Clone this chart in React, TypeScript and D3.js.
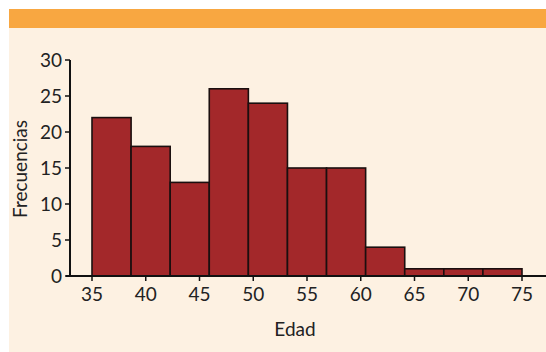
import React from "react";
import * as d3 from "d3";

const binEdges = [35, 38.636, 42.273, 45.909, 49.545, 53.182, 56.818, 60.455, 64.091, 67.727, 71.364, 75];
const frequencies = [22, 18, 13, 26, 24, 15, 15, 4, 1, 1, 1];
const xTicks = [35, 40, 45, 50, 55, 60, 65, 70, 75];
const yTicks = [0, 5, 10, 15, 20, 25, 30];

const W = 546, H = 352;
const FONT = "'Lato', 'Open Sans', sans-serif";

export default function App() {
  const x = d3.scaleLinear().domain([35, 75]).range([92, 522]);
  const y = d3.scaleLinear().domain([0, 30]).range([276, 60]);
  const bars = frequencies.map((f, i) => ({ x0: binEdges[i], x1: binEdges[i + 1], f }));
  return (
    <svg width={W} height={H} style={{ position: "absolute", left: 0, top: 0 }}>
      <rect x={9} y={28} width={W - 9} height={H - 28} fill="#fdf1e2" />
      <rect x={9} y={9} width={W - 9} height={19} fill="#f8a741" />
      {bars.map((b, i) => (
        <rect key={i} x={x(b.x0)} y={y(b.f)} width={x(b.x1) - x(b.x0)} height={y(0) - y(b.f)}
          fill="#a3282a" stroke="#1a0f0f" strokeWidth={1.6} />
      ))}
      <line x1={70} x2={70} y1={y(30)} y2={y(0)} stroke="#111" strokeWidth={2} />
      <line x1={66} x2={W} y1={y(0)} y2={y(0)} stroke="#111" strokeWidth={2} />
      {yTicks.map((t) => (
        <g key={t}>
          <line x1={65} x2={70} y1={y(t)} y2={y(t)} stroke="#111" strokeWidth={1.5} />
          <text x={62} y={y(t)} dy="0.35em" textAnchor="end" fontFamily={FONT} fontSize={19} fill="#222">{t}</text>
        </g>
      ))}
      {xTicks.map((t) => (
        <g key={t}>
          <line x1={x(t)} x2={x(t)} y1={y(0)} y2={y(0) + 5} stroke="#111" strokeWidth={1.5} />
          <text x={x(t)} y={301} textAnchor="middle" fontFamily={FONT} fontSize={19} fill="#222">{t}</text>
        </g>
      ))}
      <text x={295} y={336} textAnchor="middle" fontFamily={FONT} fontSize={19} fill="#222">Edad</text>
      <text transform="translate(27,169) rotate(-90)" textAnchor="middle" fontFamily={FONT} fontSize={19} fill="#222">Frecuencias</text>
    </svg>
  );
}
